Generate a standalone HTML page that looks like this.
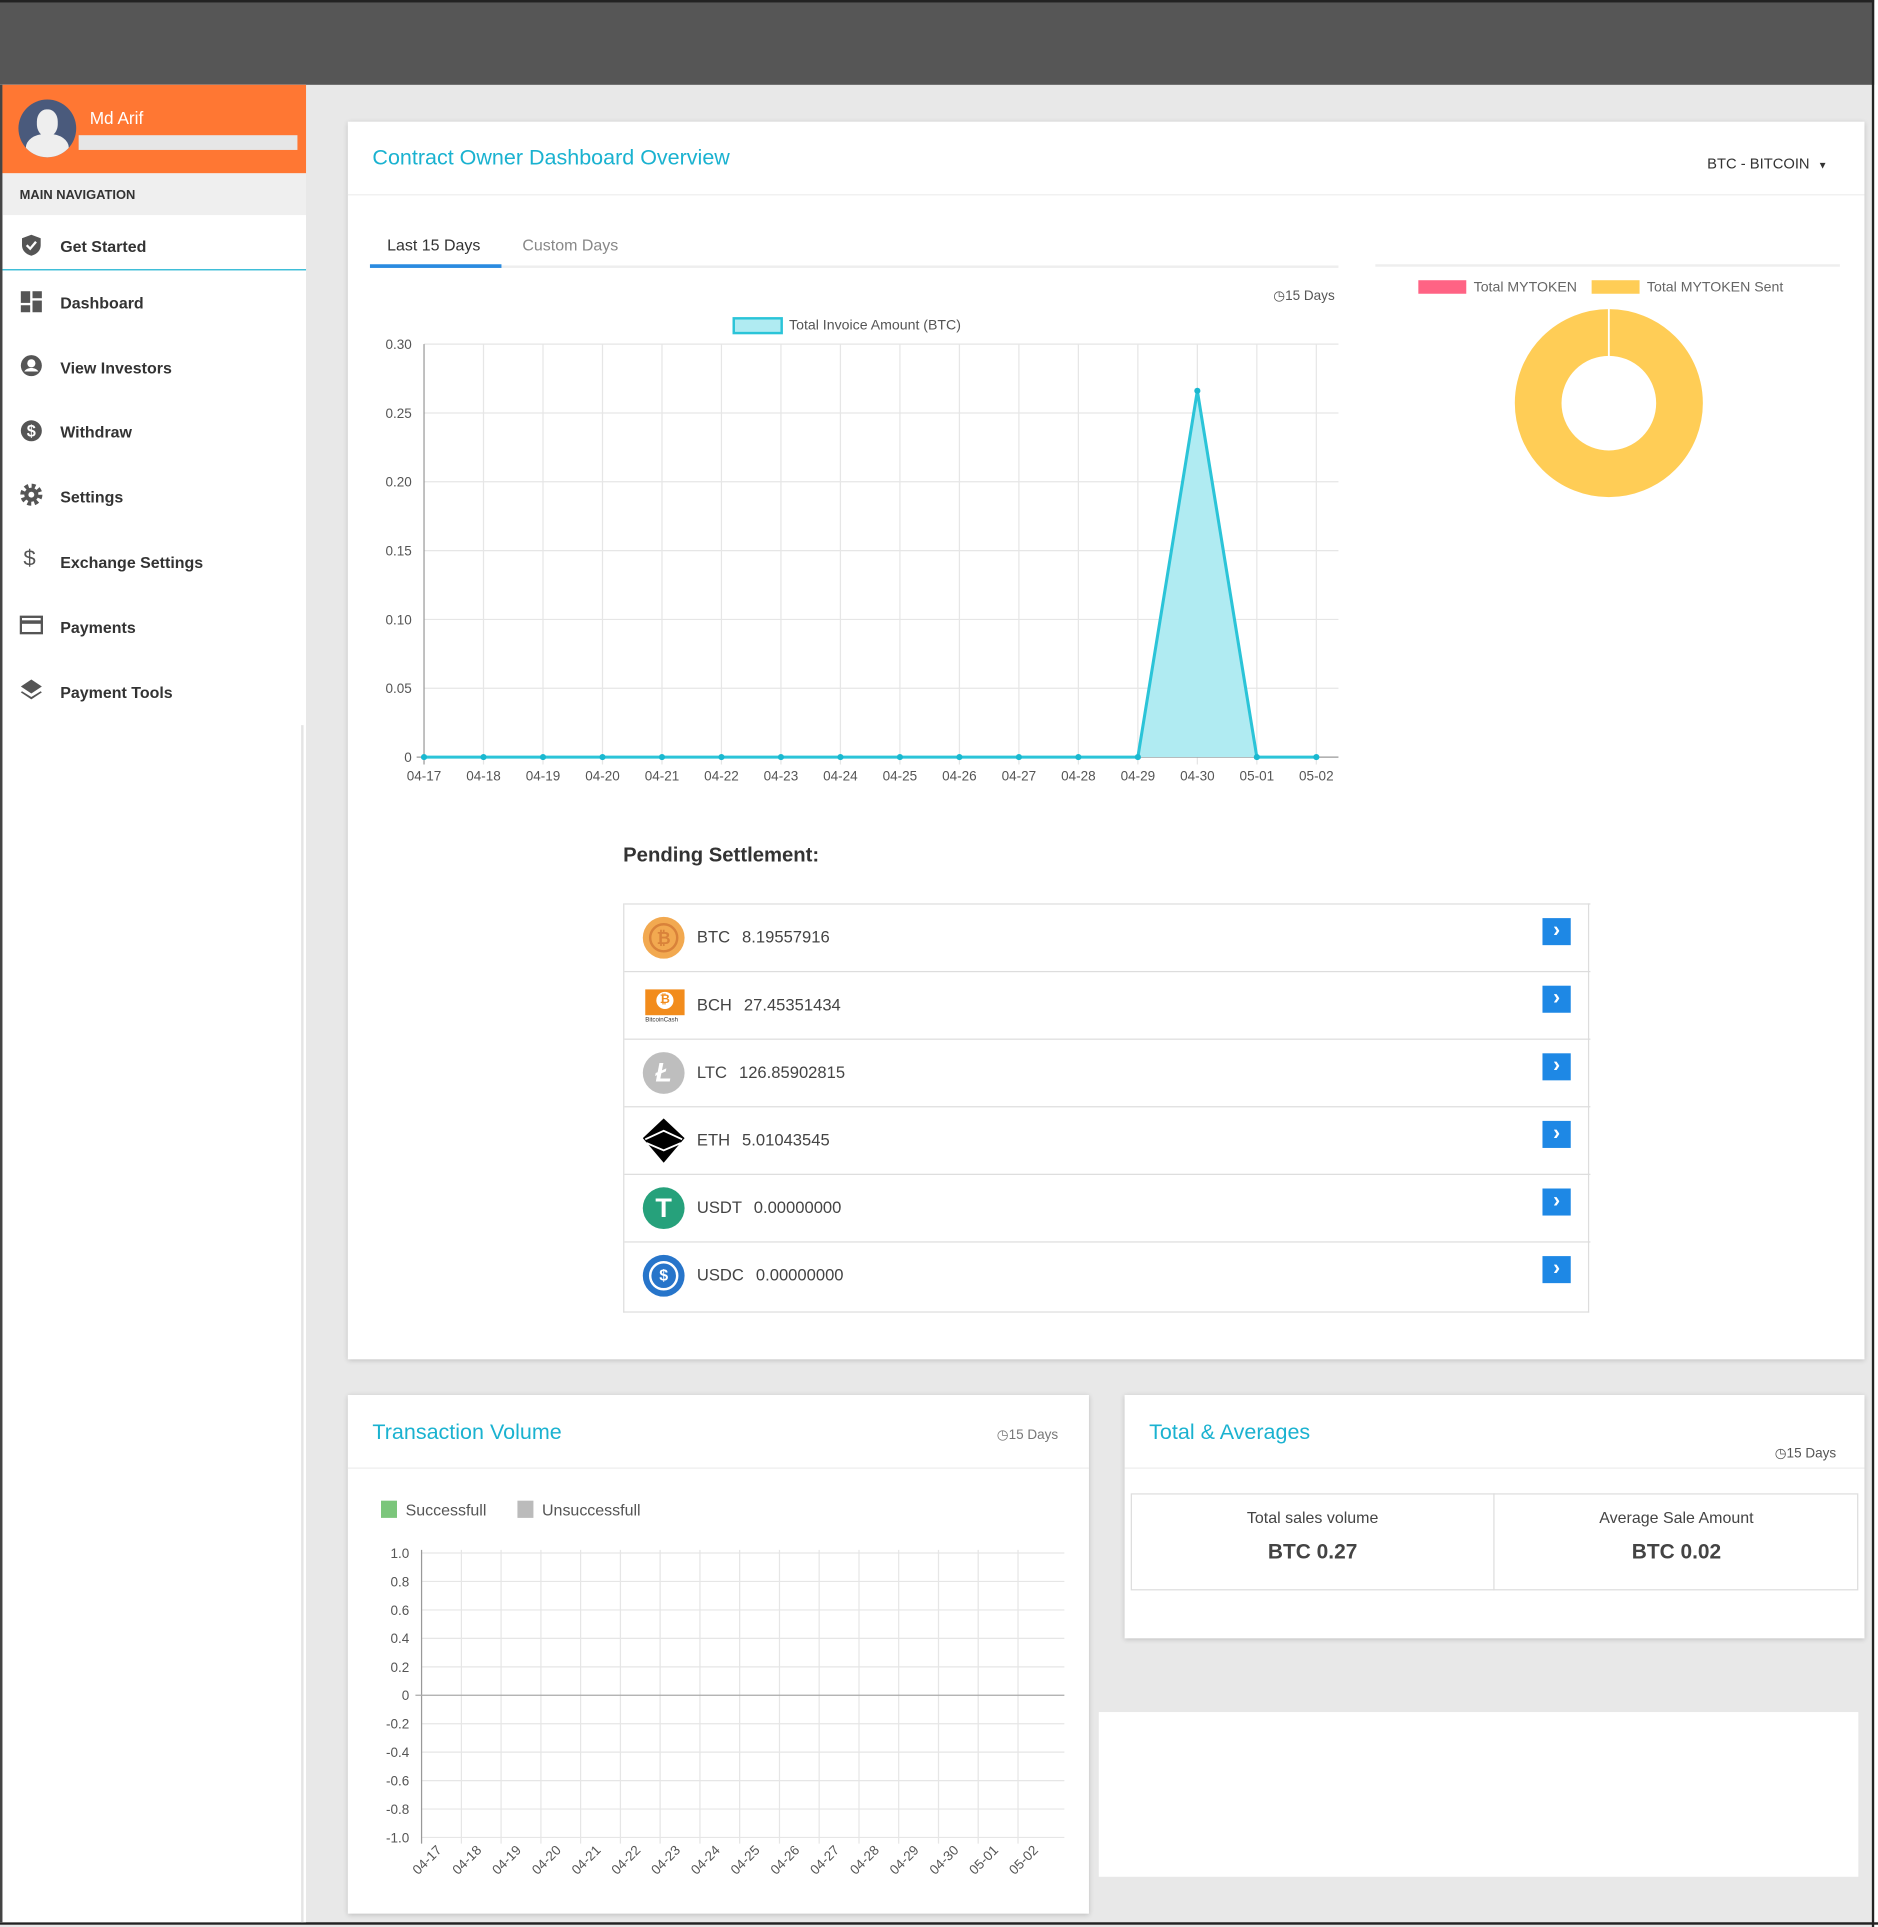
<!DOCTYPE html>
<html><head><meta charset="utf-8">
<style>
html,body{margin:0;padding:0;width:1878px;height:1927px;overflow:hidden;background:#fff}
#w{position:absolute;left:0;top:0;width:1528px;height:1568px;transform:scale(1.22906);transform-origin:0 0;background:#e8e8e8;font-family:"Liberation Sans",sans-serif;color:#333}
.a{position:absolute}
.card{position:absolute;background:#fff;box-shadow:0 1px 4px rgba(0,0,0,.18)}
.nav{position:absolute;left:49px;font-size:13px;font-weight:bold;color:#333}
.ic{position:absolute;left:16px;width:19px;height:19px}
.row{position:absolute;left:0;width:786px;height:55px;border-top:1px solid #ddd;font-size:13.5px;color:#444}
.row .t{position:absolute;left:59px;top:19px;word-spacing:6px}
.row .b{position:absolute;left:747px;top:11px;width:23px;height:22px;background:#1e88e5;color:#fff;font-size:17px;line-height:20px;text-align:center;font-weight:bold}
.coin{position:absolute;left:15px;top:10px;width:34px;height:34px;border-radius:50%}
.ttl{position:absolute;color:#1ab2d0;font-size:17.5px}
.days{position:absolute;font-size:11px;color:#555}
</style></head><body><div id="w">
<!-- top bar -->
<div class="a" style="left:0;top:0;width:1528px;height:69px;background:#565656;border-top:2px solid #222;box-sizing:border-box"></div>
<div class="a" style="left:1523px;top:0;width:2px;height:1568px;background:#222"></div>
<div class="a" style="left:1525px;top:0;width:3px;height:1568px;background:#fff"></div>
<div class="a" style="left:0;top:1564px;width:1528px;height:2px;background:#222"></div>
<!-- sidebar -->
<div class="a" style="left:0;top:69px;width:249px;height:1495px;background:#fff"></div>
<div class="a" style="left:0;top:69px;width:2px;height:1495px;background:#444"></div>
<div class="a" style="left:245px;top:590px;width:2px;height:974px;background:#e4e4e4"></div>
<div class="a" style="left:2px;top:69px;width:247px;height:72px;background:#ff7733"></div>
<div class="a" style="left:15px;top:81px;width:47px;height:47px;border-radius:50%;background:#4a5a7c;overflow:hidden">
 <div class="a" style="left:15px;top:8px;width:17px;height:22px;border-radius:45%;background:#eee"></div>
 <div class="a" style="left:6px;top:28px;width:35px;height:25px;border-radius:45% 45% 0 0;background:#eee"></div>
</div>
<div class="a" style="left:73px;top:88px;color:#fff;font-size:14px">Md Arif</div>
<div class="a" style="left:64px;top:110px;width:178px;height:12px;background:#e6e6e6"></div>
<div class="a" style="left:2px;top:141px;width:247px;height:34px;background:#efefef"></div>
<div class="a" style="left:16px;top:153px;font-size:10.5px;font-weight:bold;color:#333">MAIN NAVIGATION</div>
<div class="a" style="left:2px;top:219px;width:247px;height:1px;background:#1ab2d0"></div>
<svg class="ic" style="top:190px" viewBox="0 0 20 20"><path d="M10 1 L18 4 V10 C18 15 14 18 10 19 C6 18 2 15 2 10 V4Z" fill="#555"/><path d="M6 10 L9 13 L14 7" stroke="#fff" stroke-width="2" fill="none"/></svg>
<div class="nav" style="top:193px">Get Started</div>
<svg class="ic" style="top:236px" viewBox="0 0 20 20" fill="#555"><rect x="1" y="1" width="8" height="10"/><rect x="11" y="1" width="8" height="6"/><rect x="1" y="13" width="8" height="6"/><rect x="11" y="9" width="8" height="10"/></svg>
<div class="nav" style="top:239px">Dashboard</div>
<svg class="ic" style="top:288px" viewBox="0 0 20 20"><circle cx="10" cy="10" r="9" fill="#555"/><circle cx="10" cy="8" r="3.5" fill="#fff"/><path d="M4 15 C6 11 14 11 16 15" fill="#fff"/></svg>
<div class="nav" style="top:292px">View Investors</div>
<svg class="ic" style="top:341px" viewBox="0 0 20 20"><circle cx="10" cy="10" r="9" fill="#555"/><text x="10" y="15" text-anchor="middle" font-size="14" font-weight="bold" fill="#fff" font-family="Liberation Sans">$</text></svg>
<div class="nav" style="top:344px">Withdraw</div>
<svg class="ic" style="top:393px" viewBox="0 0 20 20"><circle cx="10" cy="10" r="7" fill="none" stroke="#555" stroke-width="5" stroke-dasharray="3 2.5"/><circle cx="10" cy="10" r="6" fill="#555"/><circle cx="10" cy="10" r="2.5" fill="#fff"/></svg>
<div class="nav" style="top:397px">Settings</div>
<div class="a" style="left:19px;top:444px;font-size:18px;color:#555">$</div>
<div class="nav" style="top:450px">Exchange Settings</div>
<svg class="ic" style="top:499px" viewBox="0 0 20 20"><rect x="1" y="3" width="18" height="14" fill="none" stroke="#555" stroke-width="2"/><rect x="1" y="6" width="18" height="3" fill="#555"/></svg>
<div class="nav" style="top:503px">Payments</div>
<svg class="ic" style="top:551px" viewBox="0 0 20 20" fill="#555"><path d="M10 2 L19 8 L10 14 L1 8Z"/><path d="M2 12 L10 17 L18 12 L19 13 L10 19 L1 13Z"/></svg>
<div class="nav" style="top:556px">Payment Tools</div>

<!-- main card -->
<div class="card" style="left:283px;top:99px;width:1234px;height:1007px"></div>
<div class="ttl" style="left:303px;top:118px">Contract Owner Dashboard Overview</div>
<div class="a" style="left:1389px;top:126px;font-size:12px;color:#333">BTC - BITCOIN &nbsp;<span style="font-size:8px">▼</span></div>
<div class="a" style="left:283px;top:158px;width:1234px;height:1px;background:#eee"></div>
<div class="a" style="left:315px;top:192px;font-size:13px;color:#333">Last 15 Days</div>
<div class="a" style="left:425px;top:192px;font-size:13px;color:#888">Custom Days</div>
<div class="a" style="left:301px;top:216px;width:788px;height:2px;background:#eee"></div>
<div class="a" style="left:301px;top:215px;width:107px;height:3px;background:#2a8be0"></div>
<div class="a" style="left:1119px;top:215px;width:378px;height:2px;background:#eee"></div>
<div class="days" style="left:1036px;top:234px">◷15 Days</div>

<svg class="a" style="left:0;top:0" width="1528" height="1568">
 <g stroke="#e6e6e6" stroke-width="1">
  <line x1="345" y1="280" x2="1089" y2="280"/><line x1="345" y1="336" x2="1089" y2="336"/><line x1="345" y1="392" x2="1089" y2="392"/><line x1="345" y1="448" x2="1089" y2="448"/><line x1="345" y1="504" x2="1089" y2="504"/><line x1="345" y1="560" x2="1089" y2="560"/>
  <line x1="393.4" y1="280" x2="393.4" y2="622"/><line x1="441.8" y1="280" x2="441.8" y2="622"/><line x1="490.2" y1="280" x2="490.2" y2="622"/><line x1="538.6" y1="280" x2="538.6" y2="622"/><line x1="587" y1="280" x2="587" y2="622"/><line x1="635.4" y1="280" x2="635.4" y2="622"/><line x1="683.8" y1="280" x2="683.8" y2="622"/><line x1="732.2" y1="280" x2="732.2" y2="622"/><line x1="780.6" y1="280" x2="780.6" y2="622"/><line x1="829" y1="280" x2="829" y2="622"/><line x1="877.4" y1="280" x2="877.4" y2="622"/><line x1="925.8" y1="280" x2="925.8" y2="622"/><line x1="974.2" y1="280" x2="974.2" y2="622"/><line x1="1022.6" y1="280" x2="1022.6" y2="622"/><line x1="1071" y1="280" x2="1071" y2="622"/>
 </g>
 <line x1="345" y1="280" x2="345" y2="622" stroke="#999"/>
 <line x1="339" y1="616" x2="1089" y2="616" stroke="#999"/>
 <rect x="597" y="259" width="39" height="12" fill="#b0ebf2" stroke="#2bc4d8" stroke-width="2"/>
 <text x="642" y="268" font-size="11.5" fill="#555" font-family="Liberation Sans">Total Invoice Amount (BTC)</text>
 <g font-size="11" fill="#555" font-family="Liberation Sans" text-anchor="end">
  <text x="335" y="284">0.30</text><text x="335" y="340">0.25</text><text x="335" y="396">0.20</text><text x="335" y="452">0.15</text><text x="335" y="508">0.10</text><text x="335" y="564">0.05</text><text x="335" y="620">0</text>
 </g>
 <g font-size="11" fill="#555" font-family="Liberation Sans" text-anchor="middle">
  <text x="345" y="635">04-17</text><text x="393.4" y="635">04-18</text><text x="441.8" y="635">04-19</text><text x="490.2" y="635">04-20</text><text x="538.6" y="635">04-21</text><text x="587" y="635">04-22</text><text x="635.4" y="635">04-23</text><text x="683.8" y="635">04-24</text><text x="732.2" y="635">04-25</text><text x="780.6" y="635">04-26</text><text x="829" y="635">04-27</text><text x="877.4" y="635">04-28</text><text x="925.8" y="635">04-29</text><text x="974.2" y="635">04-30</text><text x="1022.6" y="635">05-01</text><text x="1071" y="635">05-02</text>
 </g>
 <polygon points="925.8,616 974.2,318 1022.6,616" fill="#b0ebf2"/>
 <polyline points="345,616 925.8,616 974.2,318 1022.6,616 1071,616" fill="none" stroke="#2bc4d8" stroke-width="2.5"/>
 <g fill="#1ab8d0">
  <circle cx="345" cy="616" r="2.5"/><circle cx="393.4" cy="616" r="2.5"/><circle cx="441.8" cy="616" r="2.5"/><circle cx="490.2" cy="616" r="2.5"/><circle cx="538.6" cy="616" r="2.5"/><circle cx="587" cy="616" r="2.5"/><circle cx="635.4" cy="616" r="2.5"/><circle cx="683.8" cy="616" r="2.5"/><circle cx="732.2" cy="616" r="2.5"/><circle cx="780.6" cy="616" r="2.5"/><circle cx="829" cy="616" r="2.5"/><circle cx="877.4" cy="616" r="2.5"/><circle cx="925.8" cy="616" r="2.5"/><circle cx="974.2" cy="318" r="2.5"/><circle cx="1022.6" cy="616" r="2.5"/><circle cx="1071" cy="616" r="2.5"/>
 </g>
 <!-- donut -->
 <rect x="1154" y="228" width="39" height="11" fill="#ff6384"/>
 <text x="1199" y="237" font-size="11.5" fill="#666" font-family="Liberation Sans">Total MYTOKEN</text>
 <rect x="1295" y="228" width="39" height="11" fill="#ffcd56"/>
 <text x="1340" y="237" font-size="11.5" fill="#666" font-family="Liberation Sans">Total MYTOKEN Sent</text>
 <circle cx="1309" cy="328" r="57.5" fill="none" stroke="#ffcd56" stroke-width="38"/>
 <line x1="1309" y1="251" x2="1309" y2="290" stroke="#fff" stroke-width="1.5"/>
</svg>

<div class="a" style="left:507px;top:687px;font-size:16.5px;font-weight:bold;color:#333">Pending Settlement:</div>
<div class="a" style="left:507px;top:735px;width:786px;height:333px;border:1px solid #ddd;border-top:none;box-sizing:border-box">
 <div class="row" style="top:0"><div class="coin" style="background:#f2a950"><div class="a" style="left:5px;top:5px;width:20px;height:20px;border:2px solid #d9823a;border-radius:50%;color:#d9823a;font-size:14px;text-align:center;line-height:20px;font-weight:bold">₿</div></div><div class="t">BTC 8.19557916</div><div class="b">›</div></div>
 <div class="row" style="top:55px"><div class="a" style="left:17px;top:14px;width:32px;height:21px;background:#f28c1c"><div class="a" style="left:9px;top:2px;width:14px;height:14px;background:#fff;border-radius:50%;color:#f28c1c;font-size:10px;text-align:center;line-height:14px;font-weight:bold">₿</div></div><div class="a" style="left:17px;top:36px;font-size:5px;color:#333">BitcoinCash</div><div class="t">BCH 27.45351434</div><div class="b">›</div></div>
 <div class="row" style="top:110px"><div class="coin" style="background:#bebebe;color:#fff;font-size:22px;font-weight:bold;text-align:center;line-height:34px;font-style:italic">Ł</div><div class="t">LTC 126.85902815</div><div class="b">›</div></div>
 <div class="row" style="top:165px"><svg class="a" style="left:15px;top:9px" width="34" height="36" viewBox="0 0 34 36"><path d="M17 0 L34 16 L17 36 L0 16Z" fill="#000"/><path d="M2 17 L17 10 L32 17" stroke="#fff" stroke-width="1.5" fill="none"/><path d="M3 20 L17 26 L31 20" stroke="#fff" stroke-width="1.5" fill="none"/></svg><div class="t">ETH 5.01043545</div><div class="b">›</div></div>
 <div class="row" style="top:220px"><div class="coin" style="background:#26a17b;color:#fff;font-size:22px;font-weight:bold;text-align:center;line-height:34px">T</div><div class="t">USDT 0.00000000</div><div class="b">›</div></div>
 <div class="row" style="top:275px"><div class="coin" style="background:#2775ca"><div class="a" style="left:5px;top:5px;width:20px;height:20px;border:2px solid #fff;border-radius:50%;color:#fff;font-size:13px;text-align:center;line-height:20px;font-weight:bold">$</div></div><div class="t">USDC 0.00000000</div><div class="b">›</div></div>
</div>

<!-- Transaction Volume -->
<div class="card" style="left:283px;top:1135px;width:603px;height:422px"></div>
<div class="ttl" style="left:303px;top:1155px">Transaction Volume</div>
<div class="days" style="left:811px;top:1161px;color:#777">◷15 Days</div>
<div class="a" style="left:283px;top:1194px;width:603px;height:1px;background:#eee"></div>
<div class="a" style="left:310px;top:1221px;width:13px;height:14px;background:#7bc67b"></div>
<div class="a" style="left:330px;top:1221px;font-size:13px;color:#555">Successfull</div>
<div class="a" style="left:421px;top:1221px;width:13px;height:14px;background:#bbb"></div>
<div class="a" style="left:441px;top:1221px;font-size:13px;color:#555">Unsuccessfull</div>
<svg class="a" style="left:0;top:0" width="1528" height="1568">
 <g stroke="#e6e6e6">
  <line x1="343" y1="1263.6" x2="866" y2="1263.6"/><line x1="343" y1="1286.7" x2="866" y2="1286.7"/><line x1="343" y1="1309.9" x2="866" y2="1309.9"/><line x1="343" y1="1333" x2="866" y2="1333"/><line x1="343" y1="1356.2" x2="866" y2="1356.2"/><line x1="343" y1="1402.5" x2="866" y2="1402.5"/><line x1="343" y1="1425.6" x2="866" y2="1425.6"/><line x1="343" y1="1448.8" x2="866" y2="1448.8"/><line x1="343" y1="1471.9" x2="866" y2="1471.9"/><line x1="343" y1="1495" x2="866" y2="1495"/>
  <line x1="375.4" y1="1261" x2="375.4" y2="1500"/><line x1="407.7" y1="1261" x2="407.7" y2="1500"/><line x1="440.1" y1="1261" x2="440.1" y2="1500"/><line x1="472.4" y1="1261" x2="472.4" y2="1500"/><line x1="504.8" y1="1261" x2="504.8" y2="1500"/><line x1="537.1" y1="1261" x2="537.1" y2="1500"/><line x1="569.5" y1="1261" x2="569.5" y2="1500"/><line x1="601.8" y1="1261" x2="601.8" y2="1500"/><line x1="634.2" y1="1261" x2="634.2" y2="1500"/><line x1="666.5" y1="1261" x2="666.5" y2="1500"/><line x1="698.9" y1="1261" x2="698.9" y2="1500"/><line x1="731.2" y1="1261" x2="731.2" y2="1500"/><line x1="763.6" y1="1261" x2="763.6" y2="1500"/><line x1="795.9" y1="1261" x2="795.9" y2="1500"/><line x1="828.3" y1="1261" x2="828.3" y2="1500"/>
 </g>
 <line x1="343" y1="1261" x2="343" y2="1500" stroke="#999"/>
 <line x1="338" y1="1379.3" x2="866" y2="1379.3" stroke="#aaa"/>
 <g font-size="11" fill="#555" font-family="Liberation Sans" text-anchor="end">
  <text x="333" y="1267.6">1.0</text><text x="333" y="1290.7">0.8</text><text x="333" y="1313.9">0.6</text><text x="333" y="1337">0.4</text><text x="333" y="1360.2">0.2</text><text x="333" y="1383.3">0</text><text x="333" y="1406.5">-0.2</text><text x="333" y="1429.6">-0.4</text><text x="333" y="1452.8">-0.6</text><text x="333" y="1475.9">-0.8</text><text x="333" y="1499">-1.0</text>
 </g>
 <g font-size="11" fill="#555" font-family="Liberation Sans" text-anchor="end">
  <text transform="translate(360,1506) rotate(-45)">04-17</text><text transform="translate(392.4,1506) rotate(-45)">04-18</text><text transform="translate(424.7,1506) rotate(-45)">04-19</text><text transform="translate(457.1,1506) rotate(-45)">04-20</text><text transform="translate(489.4,1506) rotate(-45)">04-21</text><text transform="translate(521.8,1506) rotate(-45)">04-22</text><text transform="translate(554.1,1506) rotate(-45)">04-23</text><text transform="translate(586.5,1506) rotate(-45)">04-24</text><text transform="translate(618.8,1506) rotate(-45)">04-25</text><text transform="translate(651.2,1506) rotate(-45)">04-26</text><text transform="translate(683.5,1506) rotate(-45)">04-27</text><text transform="translate(715.9,1506) rotate(-45)">04-28</text><text transform="translate(748.2,1506) rotate(-45)">04-29</text><text transform="translate(780.6,1506) rotate(-45)">04-30</text><text transform="translate(812.9,1506) rotate(-45)">05-01</text><text transform="translate(845.3,1506) rotate(-45)">05-02</text>
 </g>
</svg>

<!-- Totals -->
<div class="card" style="left:915px;top:1135px;width:602px;height:198px"></div>
<div class="ttl" style="left:935px;top:1155px">Total &amp; Averages</div>
<div class="days" style="left:1444px;top:1176px">◷15 Days</div>
<div class="a" style="left:915px;top:1194px;width:602px;height:1px;background:#eee"></div>
<div class="a" style="left:920px;top:1215px;width:592px;height:79px;border:1px solid #ddd;box-sizing:border-box"></div>
<div class="a" style="left:1215px;top:1215px;width:1px;height:79px;background:#ddd"></div>
<div class="a" style="left:920px;top:1227px;width:296px;text-align:center;font-size:13px;color:#444">Total sales volume</div>
<div class="a" style="left:920px;top:1253px;width:296px;text-align:center;font-size:17px;font-weight:bold;color:#444">BTC 0.27</div>
<div class="a" style="left:1216px;top:1227px;width:296px;text-align:center;font-size:13px;color:#444">Average Sale Amount</div>
<div class="a" style="left:1216px;top:1253px;width:296px;text-align:center;font-size:17px;font-weight:bold;color:#444">BTC 0.02</div>
<div class="a" style="left:894px;top:1393px;width:618px;height:134px;background:#fff"></div>
</div></body></html>
